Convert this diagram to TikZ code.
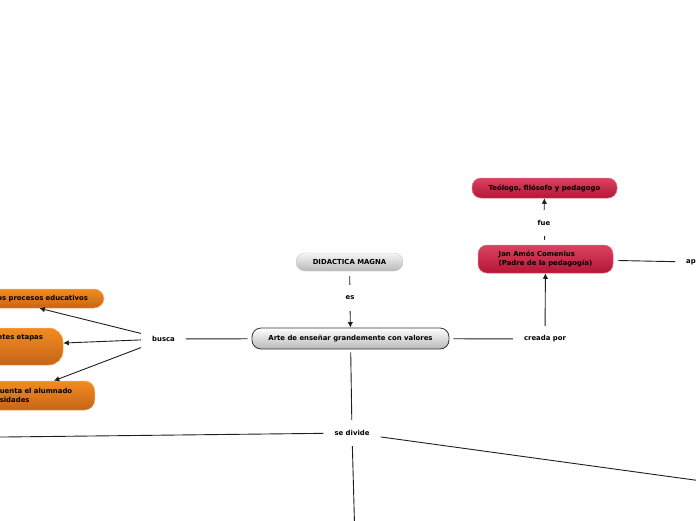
\documentclass[tikz,border=0pt]{standalone}
\usepackage{fontspec}
\setmainfont{DejaVu Sans}
\usetikzlibrary{arrows.meta, positioning}
\usepackage{xcolor}
\definecolor{greyTop}{RGB}{246,246,246}
\definecolor{greyBot}{RGB}{184,184,184}
\definecolor{redTop}{RGB}{218,66,96}
\definecolor{redBot}{RGB}{182,22,54}
\definecolor{redLine}{RGB}{226,110,134}
\definecolor{orangeTop}{RGB}{242,140,32}
\definecolor{orangeBot}{RGB}{198,100,24}
\definecolor{linkGrey}{RGB}{30,30,30}

\begin{document}
\begin{tikzpicture}[
    x=1pt, y=-1pt,
    font=\fontsize{6.9}{8.4}\selectfont\bfseries,
    box/.style={rectangle, rounded corners=9pt, align=center, inner ysep=3pt},
    greybox/.style={box, top color=greyTop, bottom color=greyBot, draw=greyBot!80},
    mainbox/.style={box, top color=white, bottom color=greyBot, draw=black!80, line width=0.8pt},
    redbox/.style={box, top color=redTop, bottom color=redBot, draw=redLine, line width=0.5pt},
    orangebox/.style={box, rounded corners=10pt, top color=orangeTop, bottom color=orangeBot, draw=orangeTop!70, line width=0.5pt},
    linkword/.style={rectangle, inner xsep=11pt, inner ysep=0pt, minimum height=26pt},
    link/.style={draw=linkGrey, line width=0.9pt},
    >={Latex[length=5.5pt, width=5.5pt]}
]
\useasboundingbox (0,0) rectangle (696,520);
\clip (0,0) rectangle (696,520);

% central branch
\node[greybox, minimum width=107pt, minimum height=18pt] (magna) at (349.5,262) {DIDACTICA MAGNA};
\node[linkword] (es) at (350,298) {es};
\node[mainbox, minimum width=197pt, minimum height=21pt] (arte) at (350.5,338.5) {Arte de enseñar grandemente con valores};

% left branch
\node[linkword] (busca) at (163.5,339) {busca};
\node[orangebox, text width=176pt, align=right, inner xsep=16pt, minimum height=19pt] (obj1) at (0,298.5) {os procesos educativos};
\node[orangebox, rounded corners=14pt, text width=132pt, align=right, inner xsep=20pt, inner ysep=6pt,
      text height=5.5pt, text depth=19.5pt] (obj2) at (-23,346.5) {ntes etapas};
\node[orangebox, anchor=east, text width=73pt, align=left, inner xsep=22pt, minimum height=29pt] (obj3) at (95,395.5) {uenta el alumnado\\sidades};

% right branch
\node[linkword] (creada) at (545,339) {creada por};
\node[redbox, minimum width=135pt, minimum height=28pt, align=left] (comenius) at (545.5,259) {Jan Amós Comenius\\(Padre de la pedagogía)};
\node[linkword] (fue) at (544,223) {fue};
\node[redbox, minimum width=145pt, minimum height=20pt] (teologo) at (544.5,188) {Teólogo, filósofo y pedagogo};
\node[linkword, anchor=west] (ap) at (675,262) {ap};

% lower branch
\node[linkword] (divide) at (352,433) {se divide};
\coordinate (divLeft) at (-40,437.5);
\coordinate (divRight) at (760,489);
\coordinate (divDown) at (355.5,560);

\draw[link, shorten <=5pt] (magna) -- (es);
\draw[link, ->] (es) -- (arte);
\draw[link, shorten >=4pt] (busca) -- (arte);
\draw[link, ->] (busca) -- (obj1);
\draw[link, ->] (busca) -- (obj2);
\draw[link, ->] (busca) -- (obj3.40);
\draw[link, shorten <=4pt] (arte) -- (creada);
\draw[link, ->] (creada) -- (comenius);
\draw[link, shorten <=5pt] (comenius) -- (fue);
\draw[link, ->] (fue) -- (teologo);
\draw[link, shorten <=5pt] (comenius) -- (ap);
\draw[link, shorten <=3pt] (arte) -- (divide);
\draw[link] (divide) -- (divLeft);
\draw[link] (divide) -- (divRight);
\draw[link] (divide) -- (divDown);
\end{tikzpicture}
\end{document}
